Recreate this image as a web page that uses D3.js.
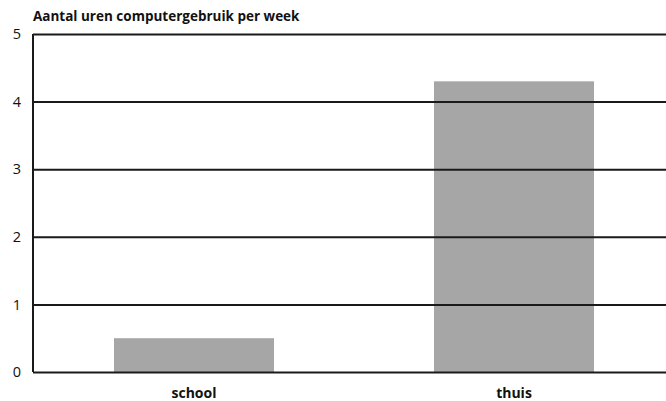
<!DOCTYPE html>
<html>
<head>
<meta charset="utf-8">
<script src="https://cdn.jsdelivr.net/npm/d3@7"></script>
<style>
body { margin: 0; background: #fff; }
text { font-family: "Open Sans", sans-serif; fill: #111; }
</style>
</head>
<body>
<svg id="chart" width="666" height="401"></svg>
<script>
const categories = ["school", "thuis"];
const hours = [0.5, 4.3];
const yTicks = [0, 1, 2, 3, 4, 5];
const title = "Aantal uren computergebruik per week";

const svg = d3.select("#chart"),
	mLeft = 33, mTop = 34, mBottom = 372, mRight = 674;

const x = d3.scaleBand().domain(categories).range([mLeft + 1, mRight])
	.paddingInner(0.5).paddingOuter(0.25);
const y = d3.scaleLinear().domain([0, 5]).range([mBottom, mTop]);

// bars first, gridlines on top of them
svg.selectAll(".bar")
	.data(categories)
	.enter().append("rect")
	.attr("class", "bar")
	.attr("x", d => x(d))
	.attr("y", (d, i) => y(hours[i]))
	.attr("width", x.bandwidth())
	.attr("height", (d, i) => mBottom - y(hours[i]))
	.attr("fill", "#a6a6a6");

const yAxis = svg.append("g")
	.attr("transform", `translate(${mLeft},0)`)
	.call(d3.axisLeft(y).tickValues(yTicks).tickFormat(d3.format("d"))
		.tickSize(-(666 - mLeft)).tickPadding(12));
yAxis.select(".domain").attr("stroke", "#1a1a1a").attr("stroke-width", 2)
	.attr("d", `M0,${mTop}V${mBottom}`);
yAxis.selectAll(".tick line").attr("stroke", "#1a1a1a").attr("stroke-width", 2);
yAxis.selectAll(".tick text").style("font-size", "14.5px").attr("fill", "#111");

const xAxis = svg.append("g")
	.attr("transform", `translate(0,${mBottom})`)
	.call(d3.axisBottom(x).tickSize(0).tickPadding(16));
xAxis.select(".domain").remove();
xAxis.selectAll(".tick text").style("font-size", "14px").style("font-weight", "bold").attr("fill", "#111");

svg.append("text")
	.attr("x", mLeft)
	.attr("y", 21)
	.style("font-size", "13.5px")
	.style("font-weight", "bold")
	.text(title);
</script>
</body>
</html>
